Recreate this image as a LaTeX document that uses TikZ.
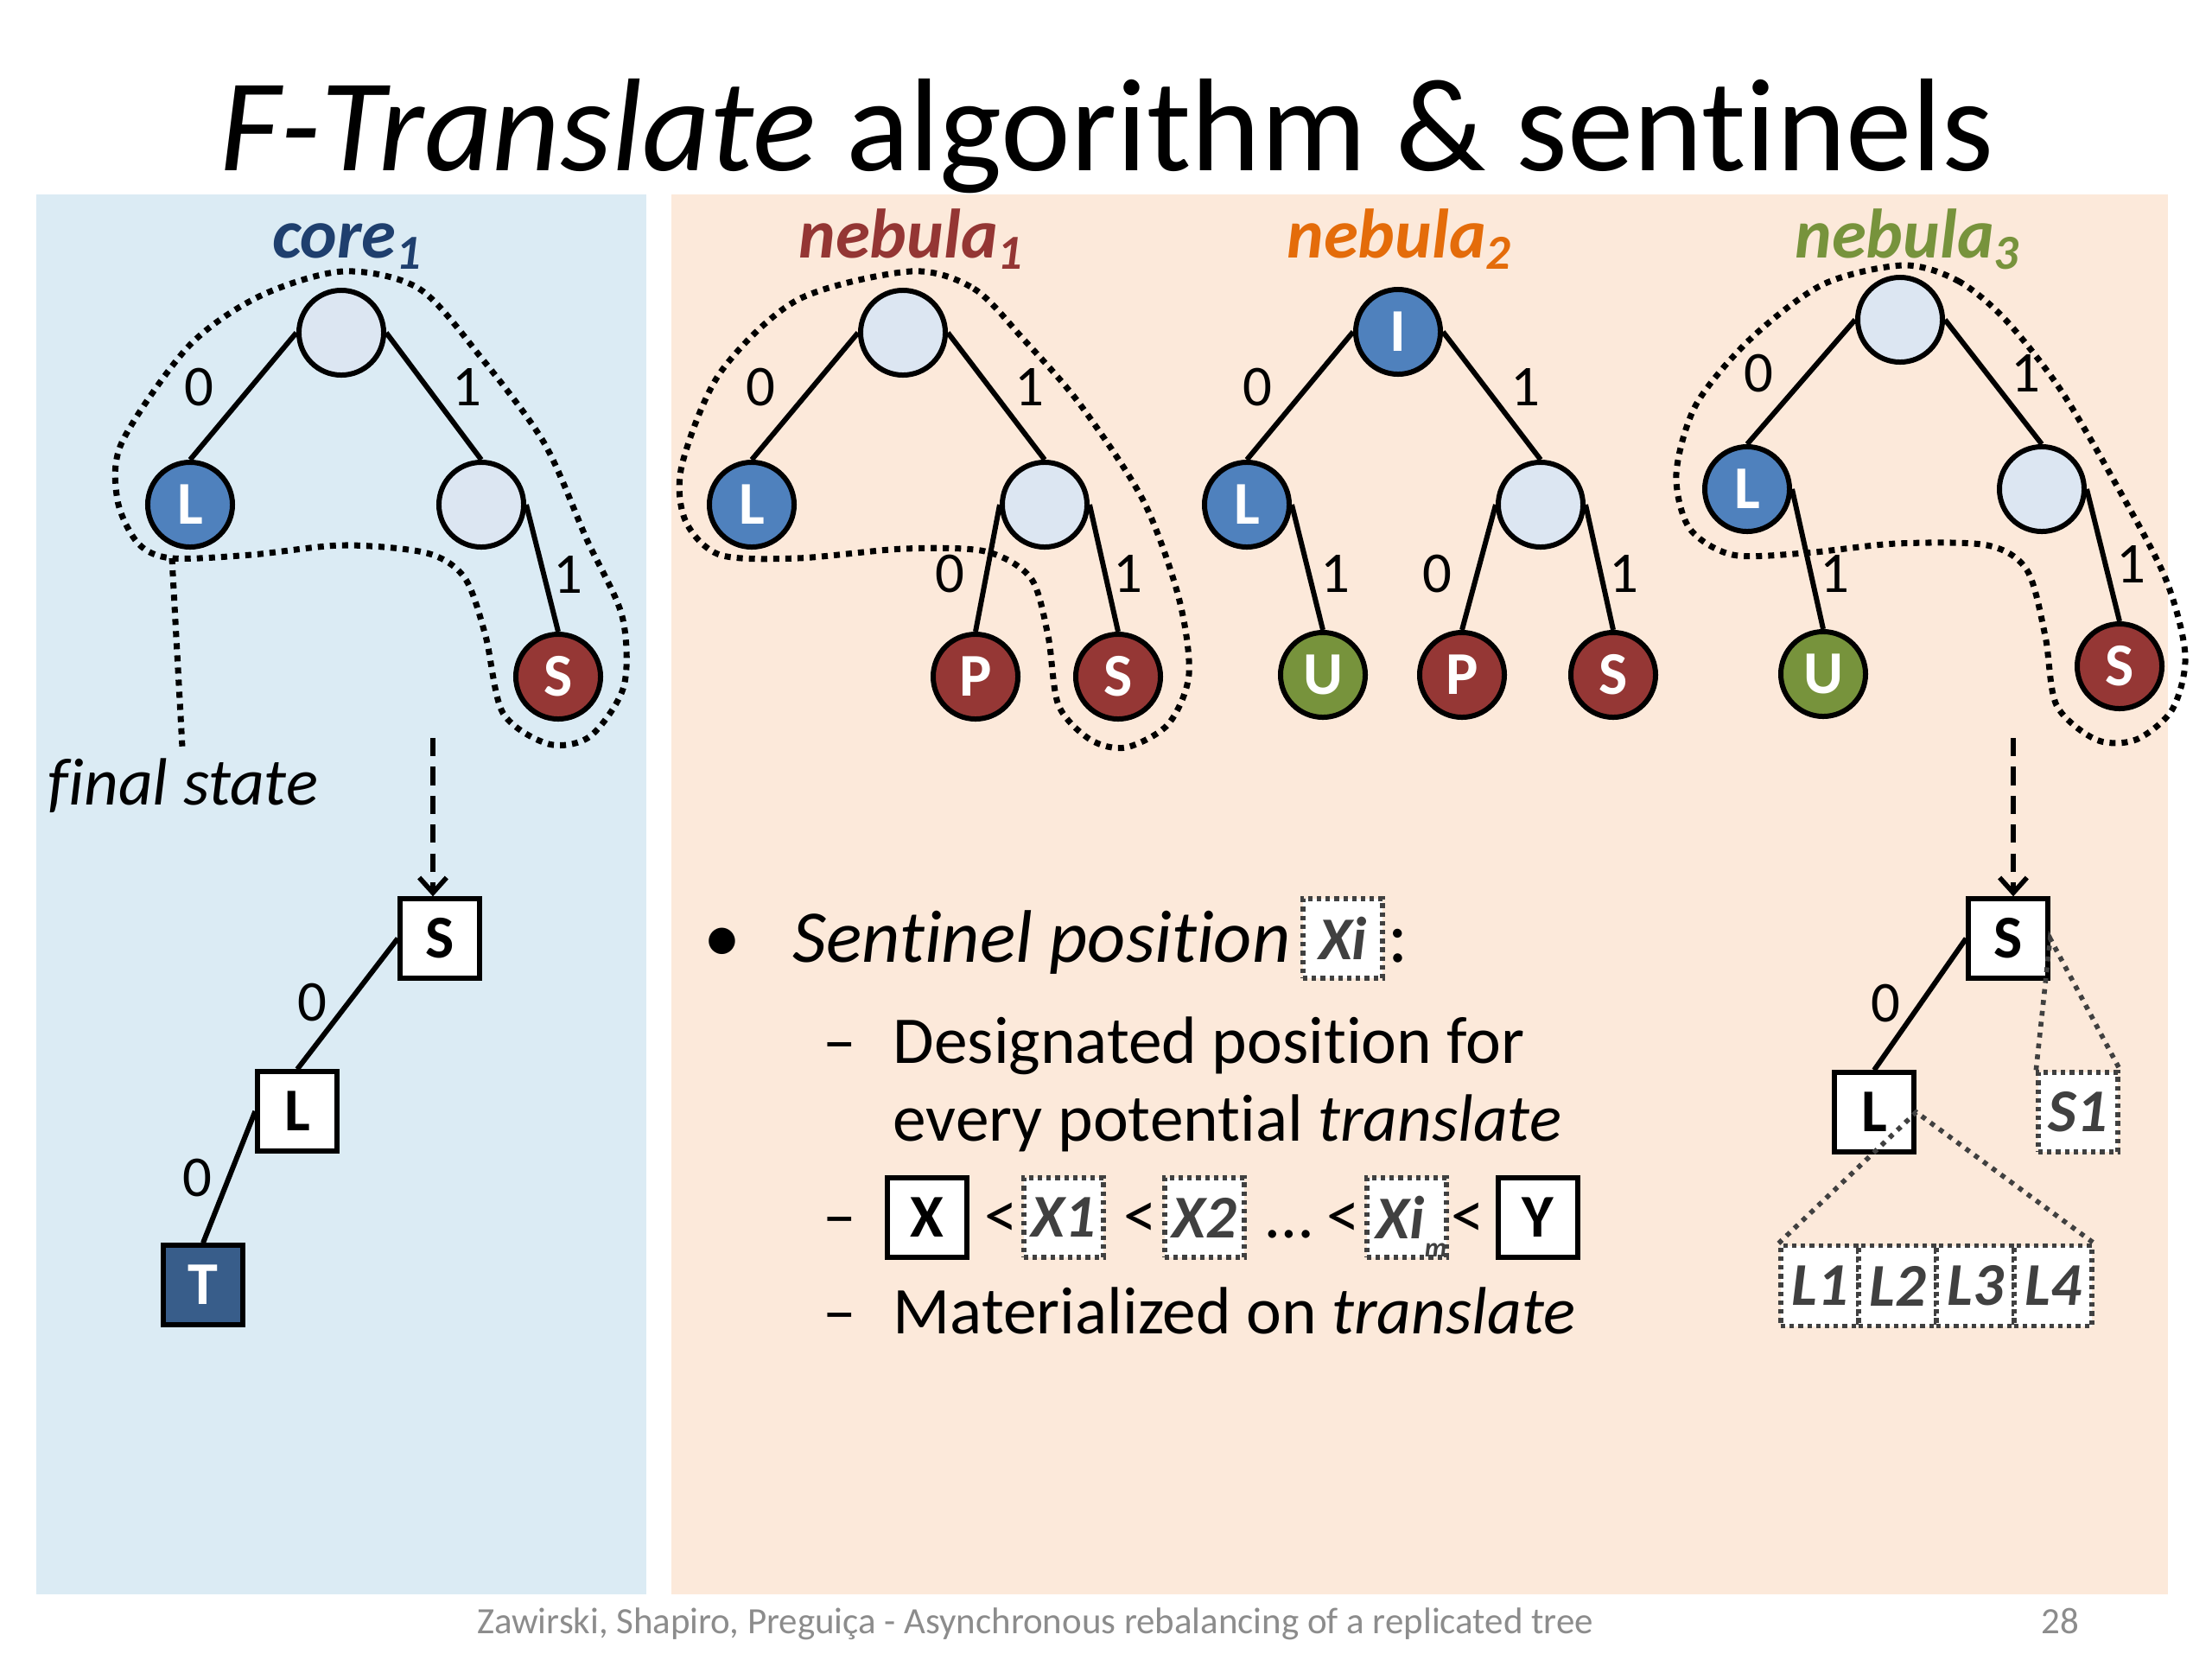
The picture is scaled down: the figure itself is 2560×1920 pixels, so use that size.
\documentclass[tikz,border=0pt]{standalone}
\usepackage{fontspec}
\setmainfont{Carlito}[Ligatures=NoCommon]
\usetikzlibrary{arrows.meta}
\definecolor{bluebg}{HTML}{DBEBF4}
\definecolor{orangebg}{HTML}{FCE9DA}
\definecolor{nodelight}{HTML}{DCE6F2}
\definecolor{nodeblue}{HTML}{4F81BD}
\definecolor{nodered}{HTML}{953735}
\definecolor{nodegreen}{HTML}{77933C}
\definecolor{tblue}{HTML}{385D8A}
\definecolor{corecol}{HTML}{1F3F6E}
\definecolor{neb1}{HTML}{943634}
\definecolor{neb2}{HTML}{E46C0A}
\definecolor{neb3}{HTML}{77933C}
\definecolor{sentgray}{HTML}{404040}
\definecolor{footgray}{HTML}{8C8C8C}
\begin{document}
\begin{tikzpicture}[x=0.01cm,y=-0.01cm,
  tn/.style={circle, draw=black, line width=1.7pt, minimum size=0.98cm, inner sep=0pt,
             font=\fontsize{20}{24}\selectfont\bfseries, text=white},
  emptyn/.style={tn, fill=nodelight},
  bluen/.style={tn, fill=nodeblue},
  redn/.style={tn, fill=nodered},
  greenn/.style={tn, fill=nodegreen},
  sqbox/.style={rectangle, draw=black, line width=1.5pt, minimum size=0.92cm, inner sep=0pt,
                fill=white, font=\fontsize{20}{24}\selectfont\bfseries},
  dsq/.style={rectangle, draw=sentgray, line width=1.5pt, dash pattern=on 1.5pt off 1.4pt,
              fill=white, minimum width=0.92cm, minimum height=0.92cm, inner sep=0pt,
              font=\fontsize{20}{24}\selectfont\bfseries\itshape, text=sentgray},
  elab/.style={font=\fontsize{19}{22}\selectfont, inner sep=0pt},
  edge/.style={line width=1.7pt},
  hull/.style={line width=2pt, dash pattern=on 2pt off 2pt},
  tri/.style={draw=sentgray, line width=1.6pt, dash pattern=on 1.6pt off 2pt},
  darrow/.style={line width=1.6pt, dash pattern=on 6pt off 3.5pt, -{Straight Barb[length=5pt,width=9pt,line width=1.6pt]}},
  treelab/.style={font=\fontsize{23}{26}\selectfont\bfseries\itshape, anchor=base, inner sep=0pt},
  body/.style={font=\fontsize{22}{26}\selectfont, anchor=base west, inner sep=0pt},
  bodyone/.style={font=\fontsize{24.5}{28}\selectfont, anchor=base west, inner sep=0pt}
]
\useasboundingbox (0,0) rectangle (2560,1920);
\fill[white] (0,0) rectangle (2560,1920);
\fill[bluebg] (42,225) rectangle (748,1845);
\fill[orangebg] (777,225) rectangle (2509,1845);

% title
\node[anchor=base, inner sep=0pt, font=\fontsize{43.5}{50}\selectfont] (title) at (1281,197)
  {\textit{F-Translate} algorithm \& sentinels};

% hulls
\draw[hull] plot[smooth cycle] coordinates {(397,314) (485,334) (557,414) (630,513) (679,624) (720,713) (722,794) (683,852) (635,861) (582,825) (562,736) (538,669) (494,640) (397,631) (291,642) (199,646) (160,629) (136,579) (141,512) (218,401) (300,343)};
\draw[hull] plot[smooth cycle] coordinates {(1054,314) (1127,334) (1184,392) (1250,468) (1323,579) (1364,691) (1376,780) (1352,838) (1303,865) (1262,856) (1225,816) (1213,736) (1193,669) (1140,638) (1046,635) (923,646) (833,642) (793,602) (789,539) (833,432) (923,347)};
\draw[hull] plot[smooth cycle] coordinates {(2203,307) (2266,325) (2321,370) (2384,450) (2447,557) (2506,669) (2529,758) (2514,821) (2472,856) (2426,856) (2380,816) (2367,736) (2346,660) (2300,631) (2195,629) (2089,640) (2005,642) (1955,611) (1940,548) (1963,468) (2026,392) (2110,329)};

% core tree
\node[treelab, text=corecol] (corelab) at (402,298) {core\textsubscript{1}};
\node[emptyn] (cR) at (395,385) {};
\node[bluen] (cL) at (220,584) {L};
\node[emptyn] (cM) at (557,584) {};
\node[redn] (cS) at (646,783) {S};
\draw[edge] (cR.west) -- (cL.north);
\draw[edge] (cR.east) -- (cM.north);
\draw[edge] (cM.east) -- (cS.north);
\node[elab] (cl0) at (230,448) {0};
\node[elab] (cl1) at (540,448) {1};
\node[elab] (cl2) at (657,665) {1};
\coordinate (fsA) at (199,646);
\coordinate (fsB) at (211,865);
\draw[hull] (fsA) -- (fsB);
\node[font=\fontsize{22}{26}\selectfont\itshape, anchor=base, inner sep=0pt] (fstate) at (212,931) {final state};
\coordinate (carrow) at (501,854);
\node[sqbox] (cSq) at (509,1086) {S};
\node[sqbox] (cLq) at (344,1286) {L};
\node[sqbox, fill=tblue, text=white] (cT) at (235,1487) {T};
\draw[darrow] (carrow) -- (carrow |- cSq.north);
\draw[edge] (cSq.west) -- (cLq.north);
\draw[edge] (cLq.west) -- (cT.north);
\node[elab] (cq0) at (361,1160) {0};
\node[elab] (cq1) at (228,1363) {0};

% nebula 1
\node[treelab, text=neb1] (n1lab) at (1055,298) {nebula\textsubscript{1}};
\node[emptyn] (aR) at (1045,385) {};
\node[bluen] (aL) at (870,584) {L};
\node[emptyn] (aM) at (1209,584) {};
\node[redn] (aP) at (1129,783) {P};
\node[redn] (aS) at (1294,783) {S};
\draw[edge] (aR.west) -- (aL.north);
\draw[edge] (aR.east) -- (aM.north);
\draw[edge] (aM.west) -- (aP.north);
\draw[edge] (aM.east) -- (aS.north);
\node[elab] (al0) at (880,448) {0};
\node[elab] (al1) at (1191,448) {1};
\node[elab] (al2) at (1099,664) {0};
\node[elab] (al3) at (1305,664) {1};

% nebula 2
\node[treelab, text=neb2] (n2lab) at (1620,298) {nebula\textsubscript{2}};
\node[bluen] (bR) at (1618,384) {I};
\node[bluen] (bL) at (1443,584) {L};
\node[emptyn] (bM) at (1783,584) {};
\node[greenn] (bU) at (1531,781) {U};
\node[redn] (bP) at (1692,781) {P};
\node[redn] (bS) at (1867,781) {S};
\draw[edge] (bR.west) -- (bL.north);
\draw[edge] (bR.east) -- (bM.north);
\draw[edge] (bL.east) -- (bU.north);
\draw[edge] (bM.west) -- (bP.north);
\draw[edge] (bM.east) -- (bS.north);
\node[elab] (bl0) at (1455,448) {0};
\node[elab] (bl1) at (1765,448) {1};
\node[elab] (bl2) at (1545,664) {1};
\node[elab] (bl3) at (1663,664) {0};
\node[elab] (bl4) at (1879,664) {1};

% nebula 3
\node[treelab, text=neb3] (n3lab) at (2208,298) {nebula\textsubscript{3}};
\node[emptyn] (dR) at (2199,370) {};
\node[bluen] (dL) at (2022,566) {L};
\node[emptyn] (dM) at (2363,566) {};
\node[greenn] (dU) at (2110,780) {U};
\node[redn] (dS) at (2453,771) {S};
\draw[edge] (dR.west) -- (dL.north);
\draw[edge] (dR.east) -- (dM.north);
\draw[edge] (dL.east) -- (dU.north);
\draw[edge] (dM.east) -- (dS.north);
\node[elab] (dl0) at (2035,432) {0};
\node[elab] (dl1) at (2344,432) {1};
\node[elab] (dl2) at (2123,664) {1};
\node[elab] (dl3) at (2466,653) {1};
\coordinate (darr) at (2330,854);
\node[sqbox] (dSq) at (2324,1086) {S};
\node[sqbox] (dLq) at (2169,1287) {L};
\node[dsq] (dS1) at (2405,1287) {S1};
\node[dsq, minimum width=0.90cm, minimum height=0.93cm] (dL1) at (2106,1488) {L1};
\node[dsq, minimum width=0.90cm, minimum height=0.93cm] (dL2) at (2196,1488) {L2};
\node[dsq, minimum width=0.90cm, minimum height=0.93cm] (dL3) at (2286,1488) {L3};
\node[dsq, minimum width=0.90cm, minimum height=0.93cm] (dL4) at (2376,1488) {L4};
\draw[darrow] (darr) -- (darr |- dSq.north);
\draw[edge] (dSq.west) -- (dLq.north);
\node[elab] (dq0) at (2182,1161) {0};
\draw[tri] (dS1.north west) -- (dSq.east) -- (dS1.north east);
\draw[tri] (dL1.north west) -- (dLq.east) -- (dL4.north east);

% bullet text
\node[bodyone, anchor=base] (bullet) at (836,1113) {\textbullet};
\node[bodyone] (t1) at (917,1113) {\textit{Sentinel position}};
\node[dsq] (xi) at (1554,1086) {Xi};
\node[bodyone] (colon) at (1606,1113) {:};
\node[body] (d1) at (952,1230) {–};
\node[body] (t2) at (1033,1230) {Designated position for};
\node[body] (t3) at (1033,1320) {every potential \textit{translate}};
\node[body] (d2) at (952,1432) {–};
\node[sqbox] (bx) at (1073,1409) {X};
\node[body, anchor=base] (lt1) at (1159,1432) {<};
\node[dsq] (bx1) at (1231,1409) {X1};
\node[body, anchor=base] (lt2) at (1320,1432) {<};
\node[dsq] (bx2) at (1394,1409) {X2};
\node[body, anchor=base] (dots) at (1492,1432) {\dots};
\node[body, anchor=base] (lt3) at (1555,1432) {<};
\node[dsq] (bxi) at (1628,1409) {\kern-4pt Xi\rlap{\smash{\raisebox{-0.3em}{\fontsize{9}{9}\selectfont m}}}};
\node[body, anchor=base] (lt4) at (1699,1432) {<};
\node[sqbox] (by) at (1780,1409) {Y};
\node[body] (d3) at (952,1543) {–};
\node[body] (t4) at (1033,1543) {Materialized on \textit{translate}};

% footer
\node[anchor=base, inner sep=0pt, text=footgray, font=\fontsize{12.2}{14}\selectfont] (foot) at (1198,1890)
  {Zawirski, Shapiro, Preguiça - Asynchronous rebalancing of a replicated tree};
\node[anchor=base, inner sep=0pt, text=footgray, font=\fontsize{12.2}{14}\selectfont] (page) at (2384,1890) {28};
\end{tikzpicture}
\end{document}
